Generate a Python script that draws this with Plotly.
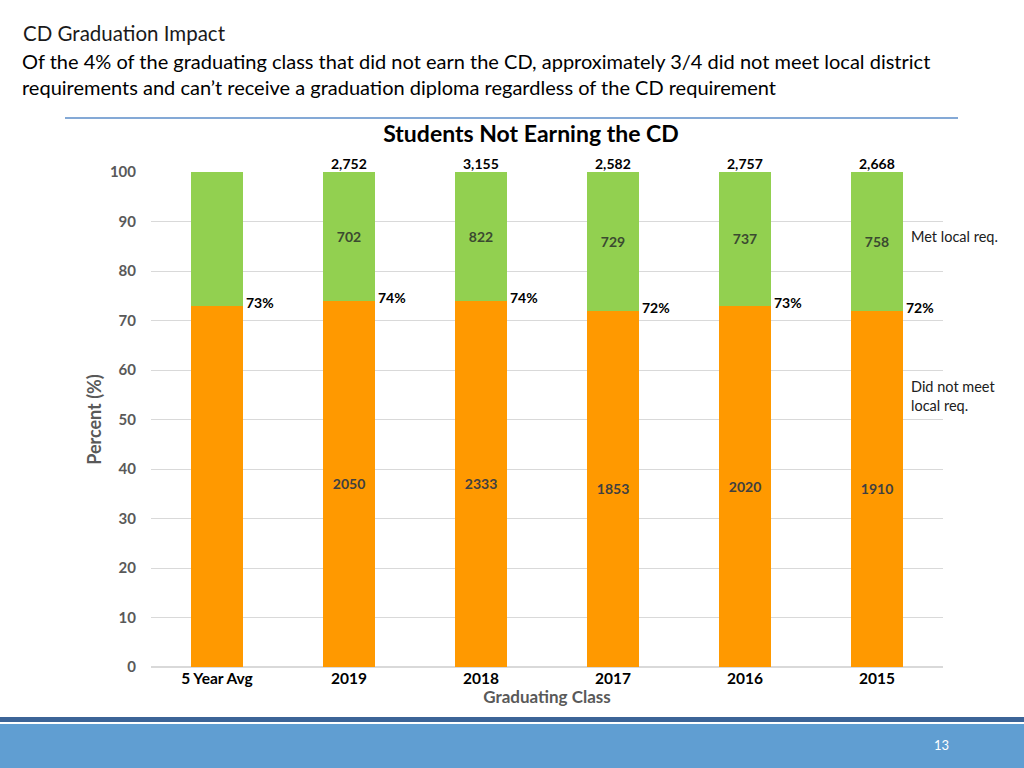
import plotly.graph_objects as go

# --- data ---
classes = ["5 Year Avg", "2019", "2018", "2017", "2016", "2015"]
pct_not_met = [73, 74, 74, 72, 73, 72]           # % did not meet local req.
pct_met = [100 - p for p in pct_not_met]           # % met local req.
count_not_met = [None, 2050, 2333, 1853, 2020, 1910]
count_met = [None, 702, 822, 729, 737, 758]
count_total = [None, 2752, 3155, 2582, 2757, 2668]

ORANGE = "#FF9900"
GREEN = "#92D050"
FONT = "Lato, Roboto, Arial"

W, H = 1024, 768
L, R, T, B = 151, 81, 172, 101     # plot margins in px
PW, PH = W - L - R, H - T - B


def px(x):
    # page pixel -> paper x
    return (x - L) / PW


def py(y):
    # page pixel -> paper y
    return (H - B - y) / PH


def fmt(v, comma=False):
    if v is None:
        return ""
    return f"{v:,}" if comma else str(v)


fig = go.Figure()
fig.add_trace(go.Bar(
    x=classes, y=pct_not_met, name="Did not meet local req.",
    marker=dict(color=ORANGE, line=dict(width=0)),
    text=[fmt(v) for v in count_not_met], textposition="inside",
    insidetextanchor="middle", textangle=0,
    textfont=dict(family=FONT, size=14, color="#404040", weight="bold"),
))
fig.add_trace(go.Bar(
    x=classes, y=pct_met, name="Met local req.",
    marker=dict(color=GREEN, line=dict(width=0)),
    text=[fmt(v) for v in count_met], textposition="inside",
    insidetextanchor="middle", textangle=0,
    textfont=dict(family=FONT, size=14, color="#3B4A30", weight="bold"),
))

annotations = []
# totals above each bar (category axis -> use the category index)
for i, (p, m, tot) in enumerate(zip(pct_not_met, pct_met, count_total)):
    if tot is not None:
        annotations.append(dict(
            x=i, y=p + m, xref="x", yref="y", text=fmt(tot, comma=True),
            showarrow=False, yanchor="bottom", yshift=-2,
            font=dict(family=FONT, size=14, color="#000000", weight="bold")))
# percent labels beside the orange segment
for i, p in enumerate(pct_not_met):
    annotations.append(dict(
        x=i, y=p, xref="x", yref="y", text=f"{p}%",
        showarrow=False, xanchor="left", xshift=27, yanchor="middle", yshift=3,
        font=dict(family=FONT, size=14, color="#000000", weight="bold")))

# series names on the right
annotations.append(dict(
    x=px(909), y=py(236), xref="paper", yref="paper", text="Met local req.",
    showarrow=False, xanchor="left", yanchor="middle",
    font=dict(family=FONT, size=14.5, color="#202020")))
annotations.append(dict(
    x=px(909), y=py(396), xref="paper", yref="paper",
    text="Did not meet<br>local req.", align="left",
    showarrow=False, xanchor="left", yanchor="middle",
    font=dict(family=FONT, size=14.5, color="#202020")))

# slide header text
annotations.append(dict(
    x=px(21), y=py(33), xref="paper", yref="paper", text="CD Graduation Impact",
    showarrow=False, xanchor="left", yanchor="middle",
    font=dict(family=FONT, size=20.5, color="#1a1a1a")))
annotations.append(dict(
    x=px(20), y=py(74), xref="paper", yref="paper",
    text="Of the 4% of the graduating class that did not earn the CD, approximately 3/4 did not meet local district"
         "<br>requirements and can\u2019t receive a graduation diploma regardless of the CD requirement",
    showarrow=False, xanchor="left", yanchor="middle", align="left",
    font=dict(family=FONT, size=20, color="#000000")))
annotations.append(dict(
    x=px(941), y=py(745), xref="paper", yref="paper", text="13",
    showarrow=False, xanchor="center", yanchor="middle",
    font=dict(family=FONT, size=13, color="#FFFFFF")))

shapes = [
    # rule under header
    dict(type="line", xref="paper", yref="paper", x0=px(65), x1=px(958),
         y0=py(118), y1=py(118), line=dict(color="#5B8CC8", width=1.5)),
    # footer band
    dict(type="rect", xref="paper", yref="paper", x0=px(-2), x1=px(W + 2),
         y0=py(724), y1=py(H + 2), fillcolor="#609ED2", line=dict(width=0), layer="above"),
    dict(type="rect", xref="paper", yref="paper", x0=px(-2), x1=px(W + 2),
         y0=py(717), y1=py(722), fillcolor="#3C6497", line=dict(width=0), layer="above"),
]

fig.update_layout(
    width=W, height=H,
    margin=dict(l=L, r=R, t=T, b=B),
    barmode="stack", bargap=0.6,
    showlegend=False,
    paper_bgcolor="white", plot_bgcolor="white",
    font=dict(family=FONT),
    title=dict(text="Students Not Earning the CD", x=531 / W, y=1 - 134 / H,
               xanchor="center", yanchor="middle", xref="container", yref="container",
               font=dict(family=FONT, size=23, color="#000000", weight="bold")),
    xaxis=dict(
        type="category", range=[-0.5, len(classes) - 0.5],
        tickfont=dict(family=FONT, size=15.5, color="#000000", weight="bold"),
        showgrid=False, showline=False, ticks="",
        title=dict(text="Graduating Class", standoff=5,
                   font=dict(family=FONT, size=17, color="#595959", weight="bold")),
    ),
    yaxis=dict(
        range=[0, 100], dtick=10,
        tickfont=dict(family=FONT, size=15, color="#595959", weight="bold"),
        gridcolor="#D9D9D9", gridwidth=1, zeroline=True, zerolinecolor="#D9D9D9",
        ticks="", ticklabelstandoff=14,
        title=dict(text="Percent (%)", standoff=3,
                   font=dict(family=FONT, size=18, color="#595959", weight="bold")),
    ),
    annotations=annotations,
    shapes=shapes,
)

# the page is photographed at 1024x768, so drop the default body margin
fig.write_html("out.html", config={"displayModeBar": False},
               post_script="document.body.style.margin='0';")
